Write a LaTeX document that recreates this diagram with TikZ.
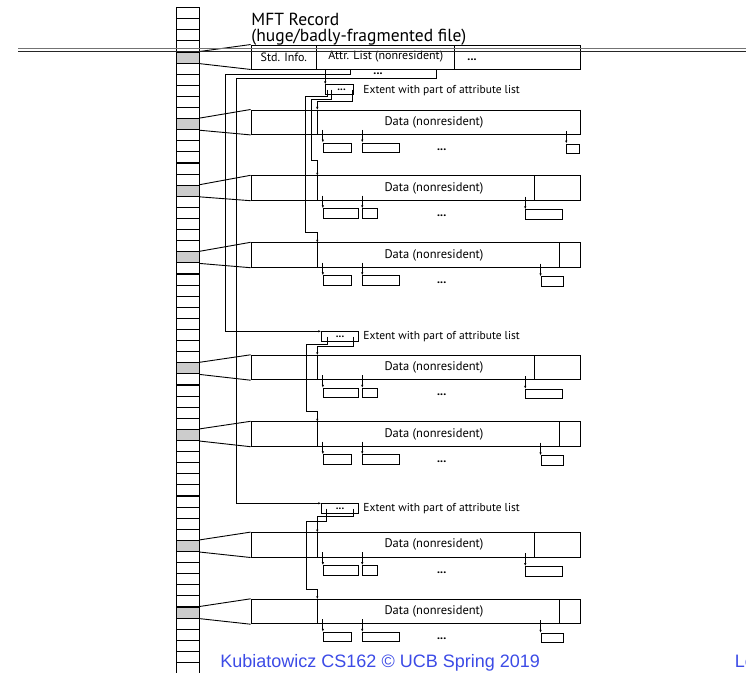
\documentclass[tikz,border=0pt]{standalone}
\usepackage{fontspec}
\setmainfont{PT Sans}
\newfontfamily\footfont{Liberation Sans}
\usetikzlibrary{calc, positioning, arrows.meta}
\definecolor{cellgray}{gray}{0.8}
\definecolor{footblue}{RGB}{60,75,230}

\begin{document}
\begin{tikzpicture}[x=1pt, y=-1pt, line width=0.9pt, >={Latex[length=3pt,width=2.4pt]},
        cell/.style={draw, line width=1.1pt, minimum width=22.6pt, minimum height=11.1pt, inner sep=0pt},
        blk/.style={draw, minimum width=329pt, minimum height=24.5pt, inner sep=0pt},
        rec/.style={draw, minimum height=24pt, inner sep=0pt, font=\fontsize{12}{14}\selectfont},
        ext/.style={draw, minimum width=36.6pt, minimum height=9.5pt, inner sep=0pt, font=\fontsize{11}{9}\selectfont\bfseries},
        sbox/.style={draw, minimum height=9.5pt, inner sep=0pt},
        lbl/.style={font=\fontsize{12.5}{14}\selectfont, inner sep=0pt},
        elbl/.style={font=\fontsize{11.5}{14}\selectfont, inner sep=0pt, anchor=west},
        dots/.style={font=\fontsize{12}{12}\selectfont\bfseries, inner sep=0pt},
        foot/.style={font=\footfont\fontsize{18}{20}\selectfont, text=footblue, anchor=base west, inner sep=0pt}]
        \useasboundingbox (0,0) rectangle (746,672);
        \clip (0,0) rectangle (746,672);

        % MFT column
        \foreach \i in {0,...,59}
            \node[cell] (c\i) at (188, 13.15+11.1*\i) {};
        \foreach \i in {4,10,16,22,32,38,48,54}
            \node[cell, fill=cellgray] at (c\i) {};

        % MFT record
        \node[anchor=base west, inner sep=0pt, font=\fontsize{17.5}{20}\selectfont] (title) at (251, 25) {MFT Record};
        \node[anchor=base west, inner sep=0pt, font=\fontsize{17.5}{20}\selectfont] (subtitle) at (251, 41) {(huge/badly-fragmented file)};
        \node[rec, minimum width=65.7pt] (std) at (283.85, 57) {Std. Info.};
        \node[rec, minimum width=138pt] (attr) at (385.7, 57) {Attr. List (nonresident)};
        \node[rec, minimum width=125.3pt] (rest) at (517.35, 57) {};
        \node[dots] at (472, 60) {...};
        \node[dots] at (378, 74) {...};
        \draw (c4.north east) -- (std.north west) (c4.south east) -- (std.south west);

        \coordinate (a1) at ($(attr.south west)+(9,0)$);
        \coordinate (a2) at ($(attr.south west)+(34,0)$);
        \coordinate (a3) at ($(attr.south west)+(120,0)$);

        % extents
        \node[ext, minimum width=27.6pt] (ext1) at (339.5, 89.6) {\hspace{4pt}...};
        \node[ext] (ext2) at (340, 336.5) {...};
        \node[ext] (ext3) at (340, 508.5) {...};
        \node[elbl] at (363, 90.5) {Extent with part of attribute list};
        \node[elbl] at (363, 336.5) {Extent with part of attribute list};
        \node[elbl] at (363, 509) {Extent with part of attribute list};

        \draw[->] (a1) -- (a1 |- ext1.north);
        \draw[->] (a2) |- (225,74) |- (ext2.north west);
        \draw[->] (a3) |- (236.7,78.7) |- (ext3.north west);

        % data extents
        \foreach \m/\y/\k/\dv/\ba/\bb/\bc/\bd in {
                1/122.2/10/580/351.7/399.3/566.7/579.3,
                2/188/16/534/358.3/377.3/525.7/562.3,
                3/255/22/559/351.7/399.3/541/563.3,
                4/367.5/32/534/358.3/377.3/525.7/562.3,
                5/434/38/559/351.7/399.3/541/563.3,
                6/544.8/48/534/358.3/377.3/525.7/562.3,
                7/611.5/54/559/351.7/399.3/541/563.3} {
            \node[blk] (d\m) at (415.5, \y) {};
            \node[lbl] at (434, \y) {Data (nonresident)};
            \coordinate (in\m) at (317.3, \y-12.25);
            \draw (in\m) -- (in\m |- d\m.south);
            \draw (\dv, \y-12.25) -- (\dv, \y+12.25);
            \draw (c\k.north east) -- (d\m.north west) (c\k.south east) -- (d\m.south west);
            \node[sbox, minimum width={\ba-323.3}] (s\m a) at ({(323.3+\ba)/2}, \y+25.5) {};
            \node[sbox, minimum width={\bb-362.7}] (s\m b) at ({(362.7+\bb)/2}, \y+25.5) {};
            \node[sbox, minimum width={\bd-\bc}] (s\m c) at ({(\bc+\bd)/2}, \y+26.5) {};
            \foreach \s in {a,b,c}
                \draw[->] ([yshift=12.75]s\m\s.north west) -- (s\m\s.north west);
            \node[dots] at (441.7, \y+27.5) {...};
        }

        \draw[->] ([xshift=-1.6]ext1.east) -- ++(0,12) -| (in1);
        \draw[->] ([xshift=6]ext1.west) -- ++(0,9.4) -| ([shift={(-5.6,-15.75)}]in2) -| (in2);
        \draw[->] ([xshift=2]ext1.west) -- ++(0,6.4) -| ([shift={(-11.6,-10)}]in3) -| (in3);
        \draw[->] ([xshift=-5]ext2.east) -- ++(0,10.2) -| (in4);
        \draw[->] ([xshift=6.6]ext2.west) -- ++(0,7.8) -| ([shift={(-11.3,-10)}]in5) -| (in5);
        \draw[->] ([xshift=-5]ext3.east) -- ++(0,8.2) -| (in6);
        \draw[->] ([xshift=5.6]ext3.west) -- ++(0,13.2) -| ([shift={(-11.3,-10)}]in7) -| (in7);

        \draw[black!55] (18,48.4) -- (746,48.4);
        \draw[black!85] (18,51.2) -- (746,51.2);

        \node[foot] (credit) at (220, 667) {Kubiatowicz CS162 © UCB Spring 2019};
        \node[foot] (lec) at (734.3, 667) {Le};
    \end{tikzpicture}
\end{document}
